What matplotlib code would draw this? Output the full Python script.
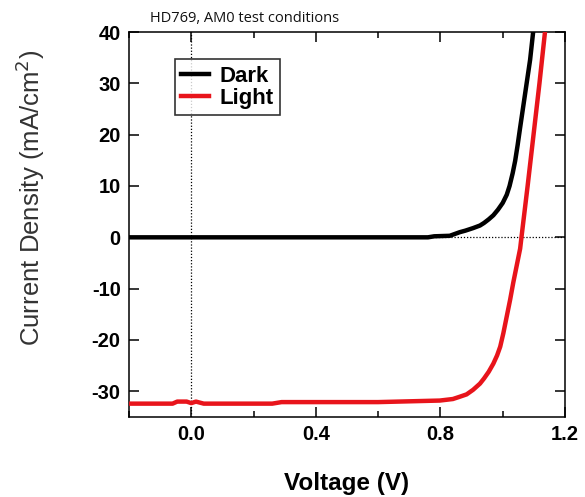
import numpy as np
import matplotlib
matplotlib.use("Agg")
import matplotlib.pyplot as plt
from matplotlib.ticker import MultipleLocator

# J-V data (V in volts, J in mA/cm^2)
dark_v = [-0.20, 0.00, 0.40, 0.76, 0.78, 0.83, 0.862, 0.88, 0.905, 0.927, 0.94,
          0.955, 0.970, 0.985, 1.000, 1.013, 1.022, 1.032, 1.040, 1.048, 1.056,
          1.064, 1.072, 1.080, 1.088, 1.099, 1.11]
dark_j = [0.0, 0.0, 0.0, 0.0, 0.2, 0.3, 1.0, 1.3, 1.8, 2.3, 2.8,
          3.5, 4.3, 5.4, 6.7, 8.3, 10.0, 12.5, 14.9, 18.0, 21.4,
          24.7, 28.0, 31.3, 34.6, 40.7, 45.0]

light_v = [-0.20, -0.06, -0.045, -0.015, 0.00, 0.015, 0.04, 0.26, 0.29, 0.60,
           0.798, 0.84, 0.86, 0.884, 0.905, 0.927, 0.94, 0.955, 0.970, 0.982,
           0.992, 1.002, 1.013, 1.024, 1.034, 1.045, 1.056, 1.061, 1.080,
           1.099, 1.118, 1.137, 1.15]
light_j = [-32.4, -32.4, -32.0, -32.0, -32.3, -32.0, -32.4, -32.4, -32.1, -32.1,
           -31.8, -31.5, -31.1, -30.6, -29.7, -28.5, -27.5, -26.2, -24.6, -23.0,
           -21.3, -18.7, -15.4, -12.1, -8.8, -5.5, -2.2, 0.4, 10.0,
           20.0, 30.0, 40.7, 47.0]

title_text = "HD769, AM0 test conditions"
x_ticks = [0.0, 0.4, 0.8, 1.2]
y_ticks = [40, 30, 20, 10, 0, -10, -20, -30]

plt.rcParams['font.family'] = ['Liberation Sans', 'DejaVu Sans']
plt.rcParams['axes.unicode_minus'] = False

fig = plt.figure(figsize=(5.85, 4.97), dpi=100)
ax = fig.add_axes([0.2205, 0.161, 0.7453, 0.7746])

# reference lines through the origin
ax.axhline(0, color='black', lw=0.9, ls=(0, (1, 1.5)), zorder=1)
ax.axvline(0, color='black', lw=0.9, ls=(0, (1, 1.5)), zorder=1)

ax.plot(dark_v, dark_j, color='black', lw=3.2, label='Dark', zorder=3,
        solid_joinstyle='round')
ax.plot(light_v, light_j, color='#e8141b', lw=3.2, label='Light', zorder=3,
        solid_joinstyle='round')

ax.set_xlim(-0.2, 1.2)
ax.set_ylim(-35, 40)
ax.set_xticks(x_ticks)
ax.set_xticklabels([f"{t:.1f}" for t in x_ticks])
ax.xaxis.set_minor_locator(MultipleLocator(0.2))
ax.set_yticks(y_ticks)

ax.tick_params(which='both', direction='in', top=True, right=True, width=1.1)
ax.tick_params(which='major', length=7, labelsize=14.5, pad=6)
ax.tick_params(which='minor', length=4)
for lbl in ax.get_xticklabels() + ax.get_yticklabels():
    lbl.set_fontweight('bold')
for sp in ax.spines.values():
    sp.set_linewidth(1.1)

ax.set_xlabel('Voltage (V)', fontsize=17.5, fontweight='bold', labelpad=20)
ax.set_ylabel('Current Density (mA/cm$^2$)', fontsize=18.5, color='#333333')
ax.yaxis.set_label_coords(-0.188, 0.57)

leg = ax.legend(loc='upper left', bbox_to_anchor=(0.105, 0.93), fontsize=16,
                frameon=True, fancybox=False, edgecolor='black',
                handlelength=1.25, handletextpad=0.45, borderpad=0.3,
                labelspacing=0.05, borderaxespad=0)
leg.get_frame().set_linewidth(1.2)
for t in leg.get_texts():
    t.set_fontweight('bold')

fig.text(0.256, 0.962, title_text, fontsize=10.5, family='Open Sans',
         ha='left', va='center', color='#111111')

fig.savefig('out.png', dpi=100)
